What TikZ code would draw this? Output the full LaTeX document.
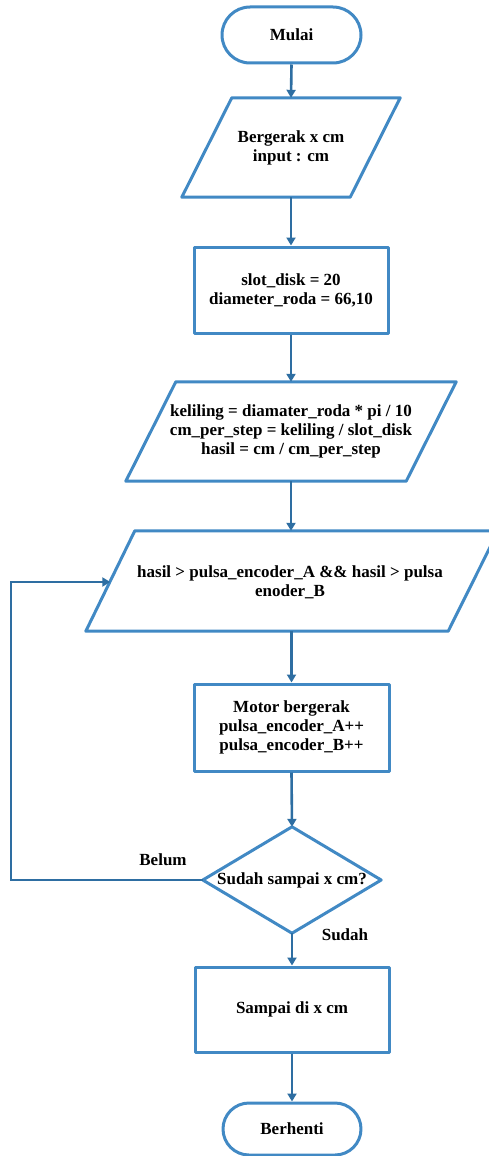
\documentclass[tikz,border=0pt]{standalone}
\usepackage{fontspec}
\setmainfont{Liberation Serif}
\usetikzlibrary{shapes.misc,arrows.meta,calc}
\definecolor{shapeblue}{HTML}{4189C4}
\definecolor{linkblue}{HTML}{2E6EA2}
\tikzset{
  txt/.style={font=\fontsize{17}{19}\selectfont\bfseries},
  shapeline/.style={draw=shapeblue,line width=3pt,line join=round},
  boxnode/.style={shapeline,rectangle,inner sep=0pt,align=center,txt},
  plainnode/.style={rectangle,inner sep=0pt,align=center,txt},
  termnode/.style={shapeline,rounded rectangle,inner sep=0pt,align=center,txt},
  conn/.style={draw=linkblue,line width=2.6pt,-{Triangle[width=9pt,length=8pt]}},
  lbl/.style={inner sep=0pt,txt}
}
\begin{document}
\begin{tikzpicture}[x=1pt,y=-1pt]
\useasboundingbox (0,0) rectangle (489,1156);
% nodes
\node[termnode,minimum width=139,minimum height=56] (start) at (291.5,35) {Mulai};
\node[plainnode,minimum width=218,minimum height=99] (p1) at (291,147.5) {Bergerak x cm\\input : cm};
\node[boxnode,minimum width=194,minimum height=86] (r1) at (291,290) {slot\_disk = 20\\diameter\_roda = 66,10};
\node[plainnode,minimum width=330,minimum height=99] (p2) at (291,431.5) {keliling = diamater\_roda * pi / 10\\cm\_per\_step = keliling / slot\_disk\\hasil = cm / cm\_per\_step};
\node[plainnode,minimum width=412,minimum height=100] (p3) at (292,581) {};
\node[plainnode] (p3text) at (290,582) {hasil > pulsa\_encoder\_A \&\& hasil > pulsa\\enoder\_B};
\node[boxnode,minimum width=195,minimum height=87] (r2) at (291.5,727.5) {Motor bergerak\\pulsa\_encoder\_A++\\pulsa\_encoder\_B++};
\node[plainnode,minimum width=178,minimum height=106] (dec) at (292,880) {Sudah sampai x cm?};
\node[boxnode,minimum width=194,minimum height=85] (r3) at (292,1009.5) {Sampai di x cm};
\node[termnode,minimum width=138,minimum height=52] (stop) at (292,1129) {Berhenti};
% parallelograms and diamond outlines
\draw[shapeline] ($(p1.north west)+(50,0)$) -- (p1.north east) -- ($(p1.south east)-(50,0)$) -- (p1.south west) -- cycle;
\draw[shapeline] ($(p2.north west)+(50,0)$) -- (p2.north east) -- ($(p2.south east)-(50,0)$) -- (p2.south west) -- cycle;
\draw[shapeline] ($(p3.north west)+(49,0)$) -- (p3.north east) -- ($(p3.south east)-(50,0)$) -- (p3.south west) -- cycle;
\draw[shapeline] (dec.north) -- (dec.east) -- (dec.south) -- (dec.west) -- cycle;
% labels
\node[lbl] (belum) at (163,860) {Belum};
\node[lbl] (sudah) at (345,935) {Sudah};
% connectors
\coordinate (p3in) at ($(p3.west)+(24.5,1)$);
\draw[conn] (start.south) -- (p1.north);
\draw[conn] (p1.south) -- (r1.north);
\draw[conn] (r1.south) -- (p2.north);
\draw[conn] (p2.south) -- (p2.south |- p3.north);
\draw[conn] (p3.south -| r2.north) -- (r2.north);
\draw[conn] (r2.south) -- (dec.north);
\draw[conn] (dec.south) -- (r3.north);
\draw[conn] (r3.south) -- (stop.north);
\draw[conn] (dec.west) -- (11,880) |- (p3in);
\end{tikzpicture}
\end{document}
